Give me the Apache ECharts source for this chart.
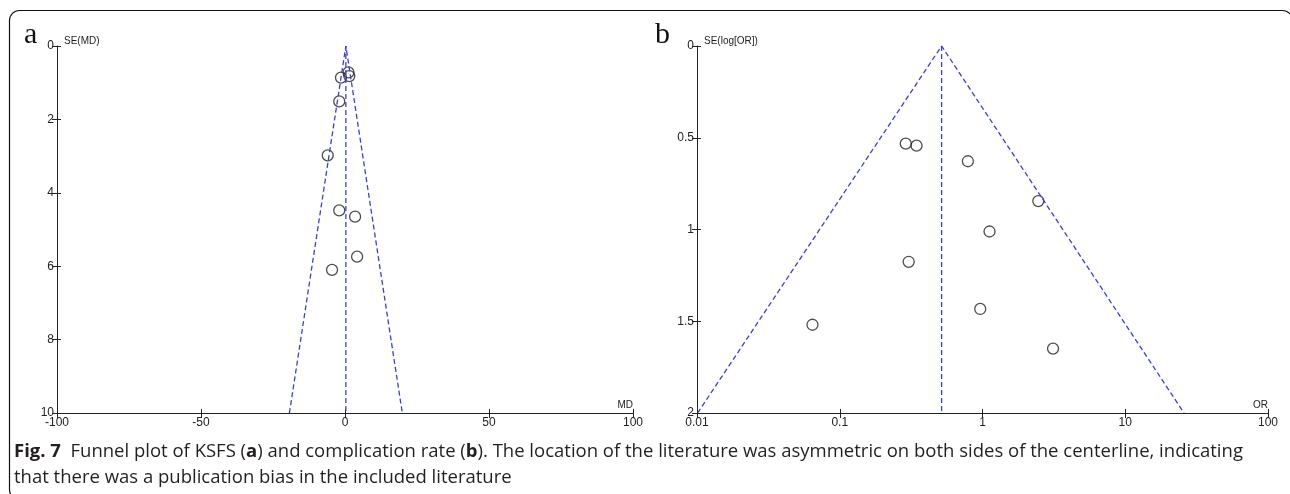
<!DOCTYPE html>
<html lang="en">
<head>
    <meta charset="UTF-8">
    <title>Funnel plot</title>
    <script src="https://cdnjs.cloudflare.com/ajax/libs/echarts/6.0.0/echarts.min.js"></script>
</head>
<style>
    html, body { margin: 0; padding: 0; background: #fff; }
    #box { width: 1290px; height: 494px; }
</style>
<body>
<div id="box"></div>
<script>
    // panel a: MD vs SE(MD)
    var mdVals = [1.2, -1.4, 1.5, -2.0, -6.0, -2.0, 3.5, 4.2, -4.5];
    var seMdVals = [0.72, 0.86, 0.82, 1.51, 2.98, 4.48, 4.65, 5.74, 6.1];
    var pooledMd = 0.3;
    var funnelMdLow = -19.3, funnelMdHigh = 19.9;
    var ticksA = [-100, -50, 0, 50, 100];

    // panel b: OR (log) vs SE(log[OR])
    var orVals = [0.29, 0.345, 0.79, 2.46, 1.12, 0.304, 0.0644, 0.964, 3.12];
    var seOrVals = [0.532, 0.543, 0.628, 0.845, 1.011, 1.176, 1.519, 1.433, 1.649];
    var pooledOr = 0.517;
    var funnelOrLow = 0.0101, funnelOrHigh = 25.8;
    var ticksB = ['0.01', '0.1', '1', '10', '100'];

    var axisCol = '#222';
    var blue = '#3b3be0';
    var lblFont = { fontFamily: 'Liberation Sans', fontSize: 12, color: '#222' };

    var chartDom = document.getElementById('box');
    var myChart = echarts.init(chartDom);

    function pairs(xs, ys) {
        return xs.map(function (x, i) { return [x, ys[i]]; });
    }

    function mainY(grid, max, interval, name) {
        return {
            gridIndex: grid, type: 'value', inverse: true, min: 0, max: max, interval: interval,
            position: 'left', splitLine: { show: false },
            axisLine: { show: true, onZero: false, lineStyle: { color: axisCol } },
            axisTick: { show: true, length: 5, lineStyle: { color: axisCol } },
            axisLabel: Object.assign({ margin: 3 }, lblFont),
            name: name, nameLocation: 'start', nameGap: 0,
            nameTextStyle: { fontFamily: 'Liberation Sans', fontSize: 10, color: '#222', align: 'left', verticalAlign: 'bottom', padding: [0, 0, 0, 7] }
        };
    }
    function dupY(grid, max, interval) {
        return {
            gridIndex: grid, type: 'value', inverse: true, min: 0, max: max, interval: interval,
            position: 'left', splitLine: { show: false }, axisLine: { show: false, onZero: false },
            axisTick: { show: true, inside: true, length: 4, lineStyle: { color: axisCol } },
            axisLabel: { show: false }
        };
    }

    var option = {
        animation: false,
        grid: [
            { left: 57, top: 46, width: 576, height: 367 },
            { left: 697, top: 46, width: 571, height: 367 }
        ],
        xAxis: [
            {
                gridIndex: 0, type: 'value', min: ticksA[0], max: ticksA[ticksA.length - 1], interval: 50,
                position: 'bottom', splitLine: { show: false },
                axisLine: { onZero: false, lineStyle: { color: axisCol } },
                axisTick: { length: 5, lineStyle: { color: axisCol } },
                axisLabel: Object.assign({ margin: 4 }, lblFont),
                name: 'MD', nameLocation: 'end', nameGap: 0,
                nameTextStyle: { fontFamily: 'Liberation Sans', fontSize: 10, color: '#222', align: 'right', verticalAlign: 'bottom', padding: [0, 0, 3, 0] }
            },
            {
                gridIndex: 0, type: 'value', min: -100, max: 100, interval: 50, position: 'bottom',
                splitLine: { show: false }, axisLine: { show: false, onZero: false },
                axisTick: { inside: true, length: 4, lineStyle: { color: axisCol } },
                axisLabel: { show: false }
            },
            {
                gridIndex: 1, type: 'log', logBase: 10, min: 0.01, max: 100,
                position: 'bottom', splitLine: { show: false },
                axisLine: { onZero: false, lineStyle: { color: axisCol } },
                axisTick: { length: 5, lineStyle: { color: axisCol } },
                axisLabel: Object.assign({
                    margin: 4,
                    formatter: function (v) {
                        var s = String(+(+v).toPrecision(3));
                        return ticksB.indexOf(s) >= 0 ? s : '';
                    }
                }, lblFont),
                name: 'OR', nameLocation: 'end', nameGap: 0,
                nameTextStyle: { fontFamily: 'Liberation Sans', fontSize: 10, color: '#222', align: 'right', verticalAlign: 'bottom', padding: [0, 0, 3, 0] }
            },
            {
                gridIndex: 1, type: 'log', logBase: 10, min: 0.01, max: 100, position: 'bottom',
                splitLine: { show: false }, axisLine: { show: false, onZero: false },
                axisTick: { inside: true, length: 4, lineStyle: { color: axisCol } },
                axisLabel: { show: false }
            }
        ],
        yAxis: [
            mainY(0, 10, 2, 'SE(MD)'),
            dupY(0, 10, 2),
            mainY(1, 2, 0.5, 'SE(log[OR])'),
            dupY(1, 2, 0.5)
        ],
        series: [
            {
                type: 'line', xAxisIndex: 0, yAxisIndex: 0, symbol: 'none', silent: true,
                lineStyle: { color: blue, width: 1.3, type: [5, 3] },
                data: [[funnelMdLow, 10], [pooledMd, 0], [funnelMdHigh, 10]]
            },
            {
                type: 'line', xAxisIndex: 0, yAxisIndex: 0, symbol: 'none', silent: true,
                lineStyle: { color: blue, width: 1.3, type: [5, 3] },
                data: [[pooledMd, 0], [pooledMd, 10]]
            },
            {
                type: 'scatter', xAxisIndex: 0, yAxisIndex: 0, symbol: 'circle', symbolSize: 11,
                itemStyle: { color: 'rgba(255,255,255,0)', borderColor: '#222', borderWidth: 1.3 },
                data: pairs(mdVals, seMdVals)
            },
            {
                type: 'line', xAxisIndex: 2, yAxisIndex: 2, symbol: 'none', silent: true,
                lineStyle: { color: blue, width: 1.3, type: [5, 3] },
                data: [[funnelOrLow, 2], [pooledOr, 0], [funnelOrHigh, 2]]
            },
            {
                type: 'line', xAxisIndex: 2, yAxisIndex: 2, symbol: 'none', silent: true,
                lineStyle: { color: blue, width: 1.3, type: [5, 3] },
                data: [[pooledOr, 0], [pooledOr, 2]]
            },
            {
                type: 'scatter', xAxisIndex: 2, yAxisIndex: 2, symbol: 'circle', symbolSize: 11,
                itemStyle: { color: 'rgba(255,255,255,0)', borderColor: '#222', borderWidth: 1.3 },
                data: pairs(orVals, seOrVals)
            }
        ],
        graphic: [
            {
                type: 'rect', silent: true,
                shape: { x: 9.5, y: 10.5, width: 1283, height: 489, r: 10 },
                style: { fill: 'none', stroke: '#111', lineWidth: 1.2 }
            },
            {
                type: 'text', left: 24, top: 20,
                style: { text: 'a', font: '30px "Liberation Serif"', fill: '#111' }
            },
            {
                type: 'text', left: 655, top: 20,
                style: { text: 'b', font: '30px "Liberation Serif"', fill: '#111' }
            },
            {
                type: 'text', left: 14, top: 439,
                style: {
                    text: '{b|Fig. 7}  Funnel plot of KSFS ({b|a}) and complication rate ({b|b}). The location of the literature was asymmetric on both sides of the centerline, indicating\nthat there was a publication bias in the included literature',
                    fontFamily: 'Open Sans', fontSize: 18.5, fill: '#231f20', lineHeight: 26,
                    rich: {
                        b: { fontFamily: 'Open Sans', fontSize: 18.5, fontWeight: 'bold', fill: '#231f20', lineHeight: 26 }
                    }
                }
            }
        ]
    };

    option && myChart.setOption(option);
</script>
</body>
</html>
